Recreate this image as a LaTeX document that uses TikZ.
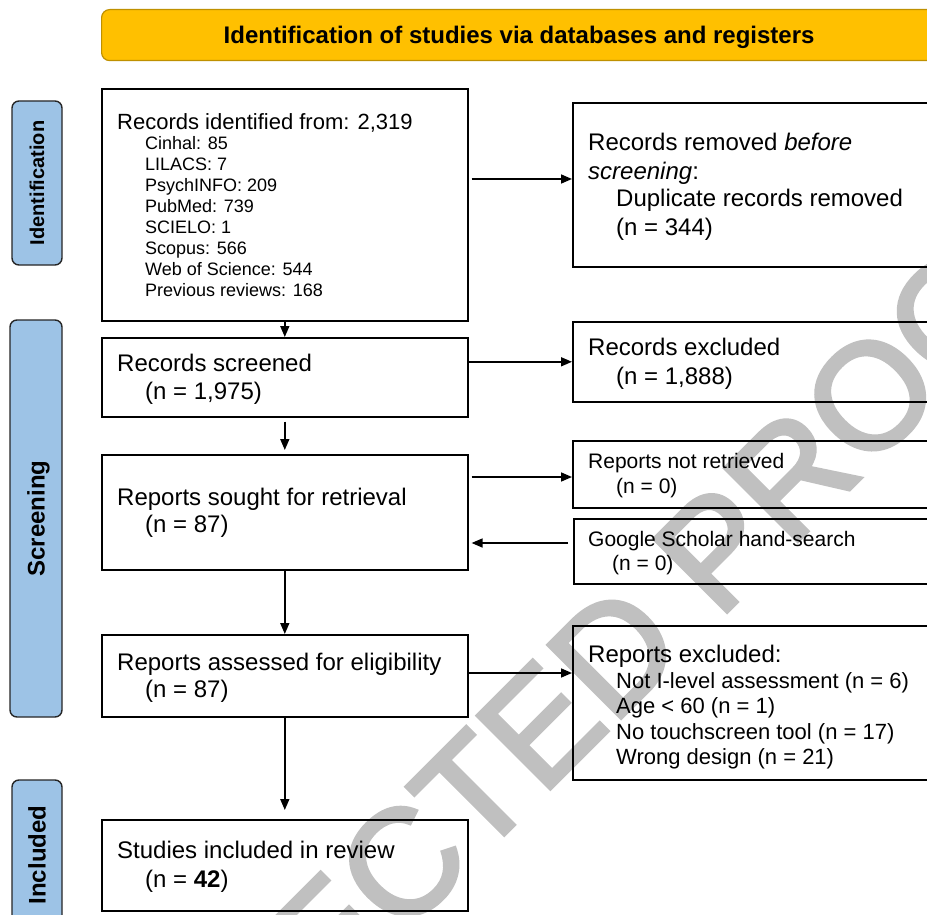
\documentclass[tikz,border=0pt]{standalone}
\usepackage{fontspec}
\setmainfont{Liberation Sans}
\newfontfamily\wmfont[FakeBold=2.5]{Liberation Sans}
\usetikzlibrary{arrows.meta}
\definecolor{bannerfill}{HTML}{FFC000}
\definecolor{bannerline}{HTML}{BF9000}
\definecolor{sidefill}{HTML}{9DC3E6}
\definecolor{wmgray}{HTML}{C0C0C0}
\begin{document}
\begin{tikzpicture}[x=1pt,y=-1pt,
  box/.style={draw, line width=1.6pt, anchor=north west, inner sep=0pt},
  sidebox/.style={draw=black!85, line width=1.4pt, fill=sidefill, rounded corners=7pt, rotate=90,
     inner sep=0pt, font=\fontsize{24}{28}\selectfont\bfseries, text height=17pt, text depth=0pt},
  fbig/.style={font=\fontsize{24}{28}\selectfont, inner sep=0pt, anchor=base west},
  fhead/.style={font=\fontsize{22}{26}\selectfont, inner sep=0pt, anchor=base west},
  fmid/.style={font=\fontsize{22}{26}\selectfont, inner sep=0pt, anchor=base west},
  fsmall/.style={font=\fontsize{21}{24}\selectfont, inner sep=0pt, anchor=base west},
  fsub/.style={font=\fontsize{18}{21}\selectfont, inner sep=0pt, anchor=base west},
  arr/.style={-{Triangle[length=11pt,width=9pt]}, line width=1.6pt},
  wmark/.style={font=\wmfont\fontsize{150}{150}\selectfont, text=wmgray, inner sep=0pt, rotate=45, anchor=base west}
]
\useasboundingbox (0,0) rectangle (927,915);
\clip (0,0) rectangle (927,915);
\fill[white] (0,0) rectangle (927,915);

% watermark
\node[wmark] (wm) at (-136,1475) {UNCORRECTED PROOF};

% banner
\node[draw=bannerline, line width=1.2pt, fill=bannerfill, rounded corners=8pt, anchor=north west,
      minimum width=835pt, minimum height=51pt, inner sep=0pt,
      font=\fontsize{24}{28}\selectfont\bfseries, text height=17pt, text depth=0pt] (banner) at (101,9)
      {Identification of studies via databases and registers};

% side labels
\node[sidebox, minimum width=164pt, minimum height=50pt, font=\fontsize{20}{24}\selectfont\bfseries, text height=14.3pt] (sid) at (37,183) {Identification};
\node[sidebox, minimum width=397pt, minimum height=52pt] (sscr) at (36,518.5) {Screening};
\node[sidebox, minimum width=150pt, minimum height=50pt] (sinc) at (37,855) {Included};

% left column boxes
\node[box, minimum width=366pt, minimum height=232pt] (b1) at (101,88) {};
\node[box, minimum width=366pt, minimum height=79pt] (b2) at (101,337) {};
\node[box, minimum width=366pt, minimum height=115pt] (b3) at (101,454) {};
\node[box, minimum width=366pt, minimum height=82pt] (b4) at (101,634) {};
\node[box, minimum width=366pt, minimum height=91pt] (b5) at (101,819) {};

% right column boxes
\node[box, minimum width=370pt, minimum height=164pt] (r1) at (572,102) {};
\node[box, minimum width=370pt, minimum height=80pt] (r2) at (572,321) {};
\node[box, minimum width=370pt, minimum height=67pt] (r3) at (572,440) {};
\node[box, minimum width=370pt, minimum height=65pt] (g1) at (573,518) {};
\node[box, minimum width=370pt, minimum height=154pt] (r4) at (572,625) {};

% texts box 1
\node[fhead] (t1a) at (117,130) {Records identified from: 2,319};
\node[fsub] (t1b) at (145,150) {Cinhal: 85};
\node[fsub] (t1c) at (145,170.9) {LILACS: 7};
\node[fsub] (t1d) at (145,191.7) {PsychINFO: 209};
\node[fsub] (t1e) at (145,212.6) {PubMed: 739};
\node[fsub] (t1f) at (145,233.4) {SCIELO: 1};
\node[fsub] (t1g) at (145,254.3) {Scopus: 566};
\node[fsub] (t1h) at (145,275.1) {Web of Science: 544};
\node[fsub] (t1i) at (145,296) {Previous reviews: 168};

% texts r1
\node[fbig] (u1a) at (588,151) {Records removed \textit{before}};
\node[fbig] (u1b) at (588,179) {\textit{screening}:};
\node[fbig] (u1c) at (616,207) {Duplicate records removed};
\node[fbig] (u1d) at (616,235) {(n = 344)};

% b2 / r2
\node[fbig] (t2a) at (117,371) {Records screened};
\node[fbig] (t2b) at (145,399) {(n = 1,975)};
\node[fbig] (u2a) at (588,355) {Records excluded};
\node[fbig] (u2b) at (616,384) {(n = 1,888)};

% b3 / r3 / g1
\node[fbig] (t3a) at (117,505) {Reports sought for retrieval};
\node[fbig] (t3b) at (145,532) {(n = 87)};
\node[fsmall] (u3a) at (588,468) {Reports not retrieved};
\node[fsmall] (u3b) at (616,493) {(n = 0)};
\node[fsmall] (g1a) at (588,546) {Google Scholar hand-search};
\node[fsmall] (g1b) at (612,570) {(n = 0)};

% b4 / r4
\node[fbig] (t4a) at (117,670) {Reports assessed for eligibility};
\node[fbig] (t4b) at (145,697) {(n = 87)};
\node[fbig] (u4a) at (588,662) {Reports excluded:};
\node[fmid] (u4b) at (616,688) {Not I-level assessment (n = 6)};
\node[fmid] (u4c) at (616,713.5) {Age < 60 (n = 1)};
\node[fmid] (u4d) at (616,739) {No touchscreen tool (n = 17)};
\node[fmid] (u4e) at (616,764.5) {Wrong design (n = 21)};

% b5
\node[fbig] (t5a) at (117,858) {Studies included in review};
\node[fbig] (t5b) at (145,887) {(n = \textbf{42})};

% connectors
\draw[arr] (b1.south) -- (b2.north);
\draw[arr] ([yshift=-4pt]b2.south) -- ([yshift=4pt]b3.north);
\draw[arr] (b3.south) -- (b4.north);
\draw[arr, shorten >=9pt] (b4.south) -- (b5.north);
\draw[arr] ([xshift=3pt]b1.east |- 0,179) -- (r1.west |- 0,179);
\draw[arr] (b2.east |- r2.west) -- (r2.west);
\draw[arr] ([xshift=3pt]b3.east |- 0,477) -- (r3.west |- 0,477);
\draw[arr] ([xshift=-5pt]g1.west |- 0,543) -- ([xshift=3pt]b3.east |- 0,543);
\draw[arr] (b4.east |- 0,673) -- (r4.west |- 0,673);
\end{tikzpicture}
\end{document}
